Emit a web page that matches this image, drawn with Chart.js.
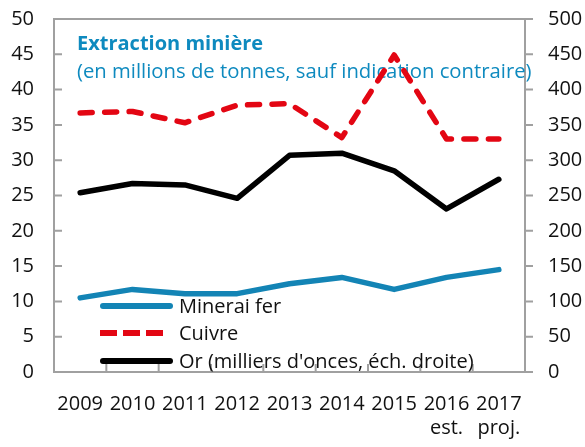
<!DOCTYPE html>
<html><head><meta charset="utf-8">
<script src="https://cdn.jsdelivr.net/npm/chart.js@4/dist/chart.umd.min.js"></script>
<style>html,body{margin:0;padding:0;background:#fff}#wrap{width:585px;height:447px}</style>
</head><body><div id="wrap"><canvas id="c" width="585" height="447"></canvas></div>
<script>
const categories = ['2009','2010','2011','2012','2013','2014','2015',['2016','est.'],['2017','proj.']];
const ironOre = [10.5, 11.7, 11.1, 11.1, 12.5, 13.4, 11.7, 13.4, 14.5];
const copper = [36.7, 36.9, 35.3, 37.8, 38.0, 33.2, 44.9, 33.0, 33.0];
const gold = [254, 267, 265, 246, 307, 310, 285, 231, 273];
const leftTicks = [0,5,10,15,20,25,30,35,40,45,50];
const rightTicks = [0,50,100,150,200,250,300,350,400,450,500];
const seriesNames = ['Minerai fer','Cuivre',"Or (milliers d'onces, éch. droite)"];
const titleText = 'Extraction minière';
const subtitleText = '(en millions de tonnes, sauf indication contraire)';

const FONT = "'Open Sans', sans-serif";
const axisColor = '#a0a0a0';

const deco = {
  id: 'deco',
  beforeDatasetsDraw(chart) {
    const ctx = chart.ctx;
    ctx.save();
    ctx.fillStyle = '#0e8abf';
    ctx.textBaseline = 'alphabetic'; ctx.textAlign = 'left';
    ctx.font = "bold 20px " + FONT;
    ctx.fillText(titleText, 77, 50);
    ctx.font = "20.3px " + FONT;
    ctx.fillText(subtitleText, 77, 78);
    ctx.restore();
  },
  afterDraw(chart) {
    const {ctx, chartArea: a, scales} = chart;
    ctx.save();
    ctx.strokeStyle = axisColor; ctx.lineWidth = 2;
    ctx.beginPath();
    ctx.moveTo(a.left, a.top); ctx.lineTo(a.right, a.top);
    ctx.stroke();
    ctx.beginPath();
    leftTicks.forEach(v => { const y = scales.y.getPixelForValue(v); ctx.moveTo(a.left, y); ctx.lineTo(a.left + 8, y); });
    rightTicks.forEach(v => { const y = scales.y2.getPixelForValue(v); ctx.moveTo(a.right, y); ctx.lineTo(a.right + 8, y); });
    for (let i = 1; i < categories.length; i++) {
      const x = (scales.x.getPixelForValue(i - 1) + scales.x.getPixelForValue(i)) / 2;
      ctx.moveTo(x, a.bottom); ctx.lineTo(x, a.bottom - 8);
    }
    ctx.stroke();
    const ds = chart.data.datasets;
    ds.forEach((d, i) => {
      const y = [306, 333, 361][i];
      ctx.strokeStyle = d.borderColor; ctx.lineWidth = 6;
      ctx.beginPath();
      if (d.borderDash) {
        ctx.setLineDash([17, 6]); ctx.lineCap = 'butt';
        ctx.moveTo(100, y); ctx.lineTo(164, y);
      } else {
        ctx.setLineDash([]); ctx.lineCap = 'round';
        ctx.moveTo(103, y); ctx.lineTo(170, y);
      }
      ctx.stroke();
      ctx.setLineDash([]);
      ctx.fillStyle = '#111';
      ctx.font = "20px " + FONT;
      ctx.textBaseline = 'middle';
      ctx.fillText(d.label, 179, y + 1);
    });
    ctx.restore();
  }
};

function fixV(width) {
  return function(s) { s.width = width; s.paddingTop = 0; s.paddingBottom = 0; };
}

new Chart(document.getElementById('c'), {
  type: 'line',
  data: {
    labels: categories,
    datasets: [
      {label: seriesNames[0], data: ironOre, yAxisID: 'y', borderColor: '#1384b5', borderWidth: 5.5, pointRadius: 0, tension: 0, borderJoinStyle: 'round', borderCapStyle: 'round'},
      {label: seriesNames[1], data: copper, yAxisID: 'y', borderColor: '#e30613', borderWidth: 5.5, borderDash: [12, 12.5], pointRadius: 0, tension: 0, borderJoinStyle: 'round', borderCapStyle: 'round'},
      {label: seriesNames[2], data: gold, yAxisID: 'y2', borderColor: '#000000', borderWidth: 5.5, pointRadius: 0, tension: 0, borderJoinStyle: 'round', borderCapStyle: 'round'}
    ]
  },
  options: {
    responsive: false, animation: false,
    layout: {padding: {top: 19, left: 0, right: 0, bottom: 0}},
    plugins: {legend: {display: false}, tooltip: {enabled: false}},
    scales: {
      x: {
        offset: true,
        grid: {display: false, drawTicks: false},
        border: {display: true, color: axisColor, width: 2},
        ticks: {color: '#111', font: {family: FONT, size: 20}, padding: 20, maxRotation: 0, autoSkip: false, lineHeight: 1.5},
        afterFit(s) { s.height = 447 - 372; s.paddingLeft = 0; s.paddingRight = 0; }
      },
      y: {
        position: 'left', min: 0, max: 50,
        afterBuildTicks(s) { s.ticks = leftTicks.map(v => ({value: v})); },
        grid: {display: false, drawTicks: false},
        border: {display: true, color: axisColor, width: 2},
        ticks: {color: '#111', font: {family: FONT, size: 20}, padding: 20},
        afterFit: fixV(54)
      },
      y2: {
        position: 'right', min: 0, max: 500,
        afterBuildTicks(s) { s.ticks = rightTicks.map(v => ({value: v})); },
        grid: {display: false, drawTicks: false},
        border: {display: true, color: axisColor, width: 2},
        ticks: {color: '#111', font: {family: FONT, size: 20}, padding: 23},
        afterFit: fixV(585 - 525)
      }
    }
  },
  plugins: [deco]
});
</script></body></html>
